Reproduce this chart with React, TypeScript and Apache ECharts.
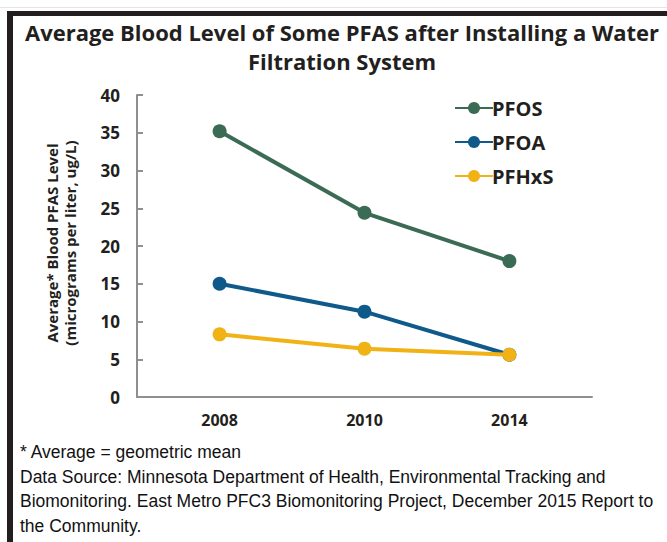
import React, { useEffect, useRef } from "react";
import * as echarts from "echarts";

const YEARS = ["2008", "2010", "2014"];
const PFOS = [35.2, 24.4, 18.0];
const PFOA = [15.0, 11.3, 5.6];
const PFHXS = [8.3, 6.4, 5.6];
const SERIES_NAMES = ["PFOS", "PFOA", "PFHxS"];
const COLORS = ["#3b6b54", "#0f5a8a", "#f0b215"];
const TITLE = "Average Blood Level of Some PFAS after Installing a Water\nFiltration System";
const Y_NAME = "Average* Blood PFAS Level\n(micrograms per liter, ug/L)";
const FOOTER =
  "* Average = geometric mean\nData Source: Minnesota Department of Health, Environmental Tracking and\nBiomonitoring. East Metro PFC3 Biomonitoring Project, December 2015 Report to\nthe Community.";

export default function App() {
  const ref = useRef<HTMLDivElement>(null);
  useEffect(() => {
    if (!ref.current) return;
    const chart = echarts.init(ref.current, undefined, { renderer: "svg" });
    const allData = [PFOS, PFOA, PFHXS];
    const textColor = "#231f20";
    chart.setOption({
      animation: false,
      backgroundColor: "#ffffff",
      grid: { left: 137, right: 75, top: 95, bottom: 145, containLabel: false },
      legend: {
        orient: "vertical",
        left: 449,
        top: 93,
        itemWidth: 38,
        itemHeight: 15,
        itemGap: 14,
        data: SERIES_NAMES,
        textStyle: {
          fontFamily: "Open Sans",
          fontWeight: "bold",
          fontSize: 20,
          color: textColor,
          padding: [0, 0, 0, -6],
        },
      },
      xAxis: {
        type: "value",
        min: -0.57,
        max: 2.57,
        axisLine: { show: true, onZero: false, lineStyle: { color: "#8f8f8f", width: 2 } },
        axisTick: { show: false },
        splitLine: { show: false },
        axisLabel: {
          customValues: [0, 1, 2],
          formatter: (v: number) => YEARS[Math.round(v)] ?? "",
          fontFamily: "Open Sans",
          fontWeight: "bold",
          fontSize: 16,
          color: textColor,
          margin: 15,
        },
      },
      yAxis: {
        type: "value",
        min: 0,
        max: 40,
        interval: 5,
        axisLine: { show: true, onZero: false, lineStyle: { color: "#8f8f8f", width: 2 } },
        axisTick: { show: true, inside: true, length: 6, lineStyle: { color: "#8f8f8f", width: 2 } },
        splitLine: { show: false },
        axisLabel: {
          fontFamily: "Open Sans",
          fontWeight: "bold",
          fontSize: 17,
          color: textColor,
          margin: 17,
        },
      },
      series: SERIES_NAMES.map((name, i) => ({
        name,
        type: "line",
        data: allData[i].map((v, j) => [j, v]),
        symbol: "circle",
        symbolSize: 14,
        lineStyle: { color: COLORS[i], width: 4 },
        itemStyle: { color: COLORS[i] },
        z: 2 + i,
      })),
      graphic: [
        { type: "rect", shape: { x: 7, y: 11, width: 660, height: 5 }, style: { fill: "#231f20" }, z: 10 },
        { type: "rect", shape: { x: 7, y: 11, width: 6, height: 531 }, style: { fill: "#231f20" }, z: 10 },
        { type: "rect", shape: { x: 0, y: 7, width: 667, height: 1 }, style: { fill: "#e6e6e6" }, z: 10 },
        {
          type: "text",
          x: 342,
          y: 17,
          style: {
            text: TITLE,
            fontFamily: "Open Sans",
            fontWeight: "bold",
            fontSize: 22,
            lineHeight: 29,
            fill: textColor,
            textAlign: "center",
            textVerticalAlign: "top",
          },
          z: 10,
        },
        {
          type: "text",
          x: 61,
          y: 243,
          rotation: Math.PI / 2,
          style: {
            text: Y_NAME,
            fontFamily: "Open Sans",
            fontWeight: "bold",
            fontSize: 15,
            lineHeight: 18,
            fill: textColor,
            textAlign: "center",
            textVerticalAlign: "middle",
          },
          z: 10,
        },
        {
          type: "text",
          x: 20,
          y: 440,
          style: {
            text: FOOTER,
            fontFamily: "Liberation Sans",
            fontSize: 17.5,
            lineHeight: 24.5,
            fill: "#111111",
            textAlign: "left",
            textVerticalAlign: "top",
          },
          z: 10,
        },
      ],
    });
    return () => chart.dispose();
  }, []);
  return (
    <div
      ref={ref}
      style={{ position: "fixed", left: 0, top: 0, width: 667, height: 542 }}
    />
  );
}
